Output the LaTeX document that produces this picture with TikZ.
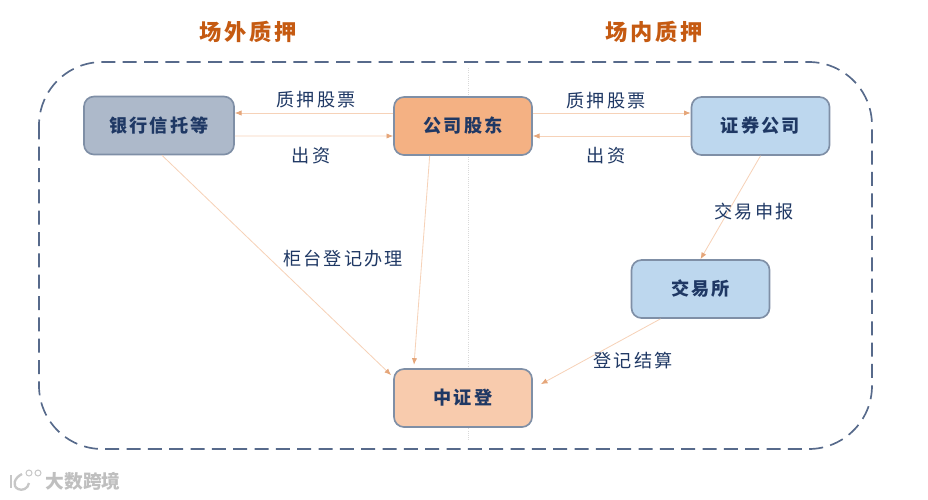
\documentclass[tikz,border=0pt]{standalone}
\usepackage{fontspec}
\newfontfamily\cjk[LetterSpace=12]{Noto Sans CJK SC}
\newfontfamily\cjkmark{Noto Sans CJK SC}
\usetikzlibrary{arrows.meta}
\definecolor{boxline}{HTML}{7F8FA6}
\definecolor{textblue}{HTML}{1F3864}
\definecolor{arrowline}{HTML}{F6D2B8}
\definecolor{arrowtip}{HTML}{E5A67A}
\definecolor{headorange}{HTML}{C55A11}
\definecolor{bankfill}{HTML}{ADB9CA}
\definecolor{holderfill}{HTML}{F4B183}
\definecolor{brokerfill}{HTML}{BDD7EE}
\definecolor{csdcfill}{HTML}{F8CBAD}
\tikzset{
    box/.style={draw=boxline, line width=0.5mm, rounded corners=3mm, minimum width=#1, minimum height=1.74cm, inner sep=0pt, text=textblue, font=\cjk\fontsize{15.5}{15.5}\selectfont\bfseries},
    flow/.style={draw=arrowline, line width=0.25mm, -{Latex[length=2mm, width=1.6mm, color=arrowtip]}},
    tag/.style={text=textblue, font=\cjk\fontsize{15.5}{15.5}\selectfont},
    head/.style={text=headorange, font=\cjk\fontsize{19}{19}\selectfont\bfseries}
}
\begin{document}
\begin{tikzpicture}[x=0.03cm, y=-0.03cm]
            \useasboundingbox (0, 0) rectangle (928, 499);

            %%frame
            \draw[draw=textblue!75!white, line width=0.5mm, dash pattern=on 4.2mm off 2.2mm, rounded corners=1.9cm] (39, 62) rectangle (872, 449);
            \draw[draw=black!15, densely dotted, line width=0.3mm] (468, 68) to (468, 440);

            \node[head] (offmarket) at (248, 32){场外质押};
            \node[head] (onmarket) at (654, 32){场内质押};

            %%boxes
            \node[box=4.5cm, fill=bankfill] (bank) at (159, 125.5){银行信托等};
            \node[box=4.14cm, fill=holderfill] (holder) at (463, 126){公司股东};
            \node[box=4.14cm, fill=brokerfill] (broker) at (760.5, 126){证券公司};
            \node[box=4.14cm, fill=brokerfill] (exchange) at (700.5, 289){交易所};
            \node[box=4.14cm, fill=csdcfill] (csdc) at (463, 398){中证登};

            %%branch
            \draw[flow] ([yshift=3.9mm]holder.west) to ([yshift=3.75mm]bank.east);
            \draw[flow] ([yshift=-3.15mm]bank.east) to ([yshift=-3mm]holder.west);
            \draw[flow] ([yshift=3.9mm]holder.east) to ([yshift=3.9mm]broker.west);
            \draw[flow] ([yshift=-3mm]broker.west) to ([yshift=-3mm]holder.east);

            \draw[flow] ([xshift=0.9mm]bank.south) to ([xshift=-0.6mm, yshift=-2.1mm]csdc.north west);
            \draw[flow] ([xshift=-1cm]holder.south) to ([xshift=-1.47cm, yshift=1mm]csdc.north);
            \draw[flow] (broker.south) to (exchange.north);
            \draw[flow] ([xshift=-1.2cm]exchange.south) to ([xshift=2.4mm, yshift=-4.8mm]csdc.north east);

            %%labels
            \node[tag] (pledgeleft) at (316, 100){质押股票};
            \node[tag] (payleft) at (311, 156){出资};
            \node[tag] (pledgeright) at (606, 101){质押股票};
            \node[tag] (payright) at (606, 156){出资};
            \node[tag] (report) at (754, 212){交易申报};
            \node[tag] (counter) at (343, 259){柜台登记办理};
            \node[tag] (settle) at (633, 361){登记结算};

            %%watermark
            \draw[draw=black!22, line width=0.7mm] (11, 475) to (11, 488);
            \draw[draw=black!22, line width=0.7mm] (22, 474) .. controls (14, 478) and (12, 486) .. (18, 489) .. controls (22, 491) and (28, 489) .. (29, 483);
            \draw[draw=black!22, line width=0.3mm] (29, 473) circle (3);
            \draw[draw=black!22, line width=0.3mm] (38, 473) circle (3);
            \node[text=black!25, font=\cjkmark\fontsize{16}{16}\selectfont\bfseries] (mark) at (83, 481){大数跨境};

        \end{tikzpicture}
\end{document}
